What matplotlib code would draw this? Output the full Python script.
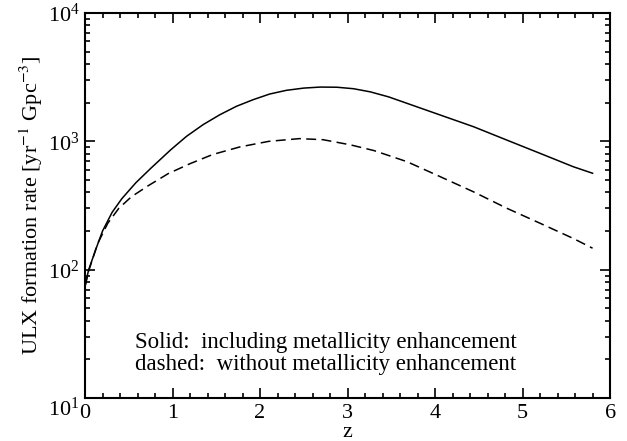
import numpy as np
import matplotlib
matplotlib.use("Agg")
import matplotlib.pyplot as plt
from matplotlib.ticker import LogLocator, MultipleLocator
import matplotlib.transforms as mtrans

plt.rcParams["font.family"] = ["Liberation Serif", "DejaVu Serif"]
plt.rcParams["mathtext.fontset"] = "stix"

# formation rates [yr^-1 Gpc^-3]
z_solid = [0.0, 0.04, 0.12, 0.2, 0.31, 0.42, 0.58, 0.75, 0.98, 1.16, 1.35, 1.54, 1.73,
           1.92, 2.11, 2.3, 2.5, 2.69, 2.88, 3.07, 3.26, 3.47, 3.68, 4.06, 4.44, 4.82,
           5.2, 5.58, 5.8]
rate_with_Z = [74, 99, 142, 200, 280, 357, 475, 615, 860, 1094, 1350, 1611, 1875,
               2110, 2337, 2497, 2600, 2648, 2640, 2570, 2430, 2220, 1977, 1603, 1300, 1023,
               806, 634, 564]

z_dashed = [0.0, 0.04, 0.145, 0.26, 0.385, 0.53, 0.72, 0.95, 1.2, 1.46, 1.77, 2.1,
            2.45, 2.72, 3.03, 3.3, 3.68, 4.06, 4.44, 4.82, 5.2, 5.58, 5.8]
rate_no_Z = [74, 97, 160, 230, 300, 370, 450, 560, 670, 790, 905, 1000,
             1050, 1030, 940, 848, 694, 530, 404, 301, 230, 175, 147]

note_lines = ["Solid:  including metallicity enhancement",
              "dashed:  without metallicity enhancement"]

fig = plt.figure(figsize=(6.27, 4.41), dpi=100)
ax = fig.add_axes([0.1356, 0.0975, 0.8374, 0.873])

ax.plot(z_solid, rate_with_Z, color="black", lw=1.1)
ax.plot(z_dashed, rate_no_Z, color="black", lw=1.1, dashes=(6.5, 3.5))

ax.set_yscale("log")
ax.set_xlim(0, 6)
ax.set_ylim(10, 1e4)
ax.xaxis.set_major_locator(MultipleLocator(1))
ax.xaxis.set_minor_locator(MultipleLocator(0.2))
ax.yaxis.set_major_locator(LogLocator(base=10))
ax.yaxis.set_minor_locator(LogLocator(base=10, subs=np.arange(2, 10)))

ax.tick_params(which="both", direction="in", top=True, right=True, width=1.2,
               labelsize=16)
ax.tick_params(which="major", length=7, pad=4)
ax.tick_params(which="minor", length=3.6)
ax.tick_params(axis="y", which="minor", labelleft=False)
for s in ax.spines.values():
    s.set_linewidth(1.5)

ax.set_xlabel("z", fontsize=16, labelpad=0)
ax.set_ylabel("ULX formation rate [yr$^{-1}$ Gpc$^{-3}$]", fontsize=16, labelpad=2)

# annotation in the lower left of the panel
ax.text(0.095, 0.13, note_lines[0], transform=ax.transAxes, fontsize=16.5,
        va="baseline", ha="left")
ax.text(0.095, 0.073, note_lines[1], transform=ax.transAxes, fontsize=16.5,
        va="baseline", ha="left")

fig.canvas.draw()
# bottom decade label sits a little lower, clear of the x axis
for t in ax.get_yticklabels():
    if t.get_position()[1] == 10:
        t.set_transform(t.get_transform() + mtrans.ScaledTranslation(0, -0.09, fig.dpi_scale_trans))

fig.savefig("out.png", dpi=100, facecolor="white")
